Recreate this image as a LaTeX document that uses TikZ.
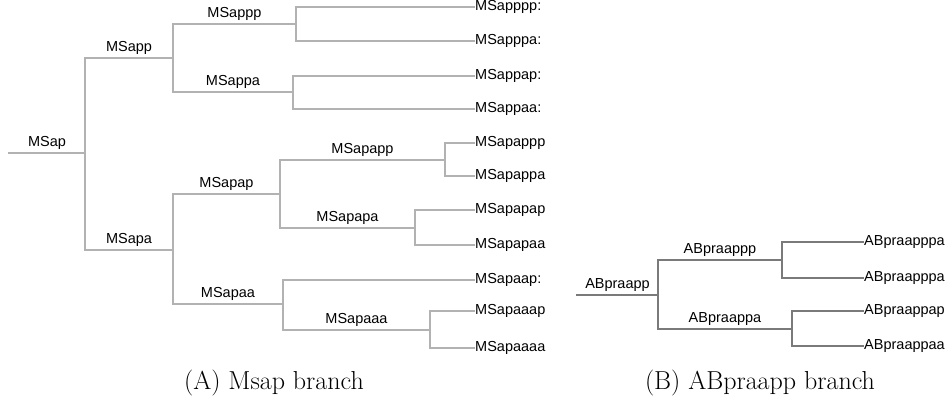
\documentclass[tikz,border=0pt]{standalone}
\usepackage{fontspec}
\usetikzlibrary{calc}
\newfontfamily\labfont{Liberation Sans}
\begin{document}
\begin{tikzpicture}[x=1pt,y=-1pt,
  edgeA/.style={draw=black!30,line width=2.8pt,line cap=rect},
  edgeB/.style={draw=black!52,line width=2.8pt,line cap=rect},
  leaflab/.style={anchor=west,inner sep=1pt,font=\labfont\fontsize{14.5}{16}\selectfont},
  inlab/.style={anchor=south,inner sep=3pt,font=\labfont\fontsize{14.5}{16}\selectfont},
  caplab/.style={anchor=base,inner sep=0pt,font=\fontsize{26}{30}\selectfont}]
\useasboundingbox (0,0) rectangle (946,398);
% ---------------- Panel A ----------------
\coordinate (a0) at (9,153);
\coordinate (ap) at (85,153);
\coordinate (app) at (173,58);
\coordinate (apa) at (173,250);
\coordinate (appp) at (296,24);
\coordinate (appa) at (293,92);
\coordinate (apppp) at (474,7);
\coordinate (apppa) at (474,41);
\coordinate (appap) at (474,76);
\coordinate (appaa) at (474,109);
\coordinate (apap) at (280,194);
\coordinate (apaa) at (283,304);
\coordinate (apapp) at (445,160);
\coordinate (apapa) at (415,228);
\coordinate (apappp) at (474,143);
\coordinate (apappa) at (474,176);
\coordinate (apapap) at (474,210);
\coordinate (apapaa) at (474,245);
\coordinate (apaap) at (474,280);
\coordinate (apaaa) at (430,330);
\coordinate (apaaap) at (474,311);
\coordinate (apaaaa) at (474,348);

\draw[edgeA] (a0) -- (ap);
\foreach \p/\c in {ap/app,ap/apa,app/appp,app/appa,appp/apppp,appp/apppa,appa/appap,appa/appaa,
  apa/apap,apa/apaa,apap/apapp,apap/apapa,apapp/apappp,apapp/apappa,apapa/apapap,apapa/apapaa,
  apaa/apaap,apaa/apaaa,apaaa/apaaap,apaaa/apaaaa}
  \draw[edgeA] (\p) |- (\c);

\node[inlab] (lap) at ($(a0)!0.5!(ap)$) {MSap};
\node[inlab] (lapp) at (129,58) {MSapp};
\node[inlab] (lapa) at (129,250) {MSapa};
\node[inlab] (lappp) at (234.5,24) {MSappp};
\node[inlab] (lappa) at (233,92) {MSappa};
\node[inlab] (lapap) at (226.5,194) {MSapap};
\node[inlab] (lapaa) at (228,304) {MSapaa};
\node[inlab] (lapapp) at (362.5,160) {MSapapp};
\node[inlab] (lapapa) at (347.5,228) {MSapapa};
\node[inlab] (lapaaa) at (356.5,330) {MSapaaa};

\node[leaflab] (lapppp) at (apppp) {MSapppp:};
\node[leaflab] (lapppa) at (apppa) {MSapppa:};
\node[leaflab] (lappap) at (appap) {MSappap:};
\node[leaflab] (lappaa) at (appaa) {MSappaa:};
\node[leaflab] (lapappp) at (apappp) {MSapappp};
\node[leaflab] (lapappa) at (apappa) {MSapappa};
\node[leaflab] (lapapap) at (apapap) {MSapapap};
\node[leaflab] (lapapaa) at (apapaa) {MSapapaa};
\node[leaflab] (lapaap) at (apaap) {MSapaap:};
\node[leaflab] (lapaaap) at (apaaap) {MSapaaap};
\node[leaflab] (lapaaaa) at (apaaaa) {MSapaaaa};

\node[caplab] (capA) at (274,389) {(A) Msap branch};

% ---------------- Panel B ----------------
\coordinate (b0) at (577,295);
\coordinate (bp) at (658,295);
\coordinate (bpp) at (782,260);
\coordinate (bpa) at (792,329);
\coordinate (bppp) at (863,242);
\coordinate (bppa) at (863,278);
\coordinate (bpap) at (863,311);
\coordinate (bpaa) at (863,346);

\draw[edgeB] (b0) -- (bp);
\foreach \p/\c in {bp/bpp,bp/bpa,bpp/bppp,bpp/bppa,bpa/bpap,bpa/bpaa}
  \draw[edgeB] (\p) |- (\c);

\node[inlab] (lbp) at ($(b0)!0.5!(bp)$) {ABpraapp};
\node[inlab] (lbpp) at (720,260) {ABpraappp};
\node[inlab] (lbpa) at (725,329) {ABpraappa};
\node[leaflab] (lbppp) at (bppp) {ABpraapppa};
\node[leaflab] (lbppa) at (bppa) {ABpraapppa};
\node[leaflab] (lbpap) at (bpap) {ABpraappap};
\node[leaflab] (lbpaa) at (bpaa) {ABpraappaa};

\node[caplab] (capB) at (760,389) {(B) ABpraapp branch};
\end{tikzpicture}
\end{document}
